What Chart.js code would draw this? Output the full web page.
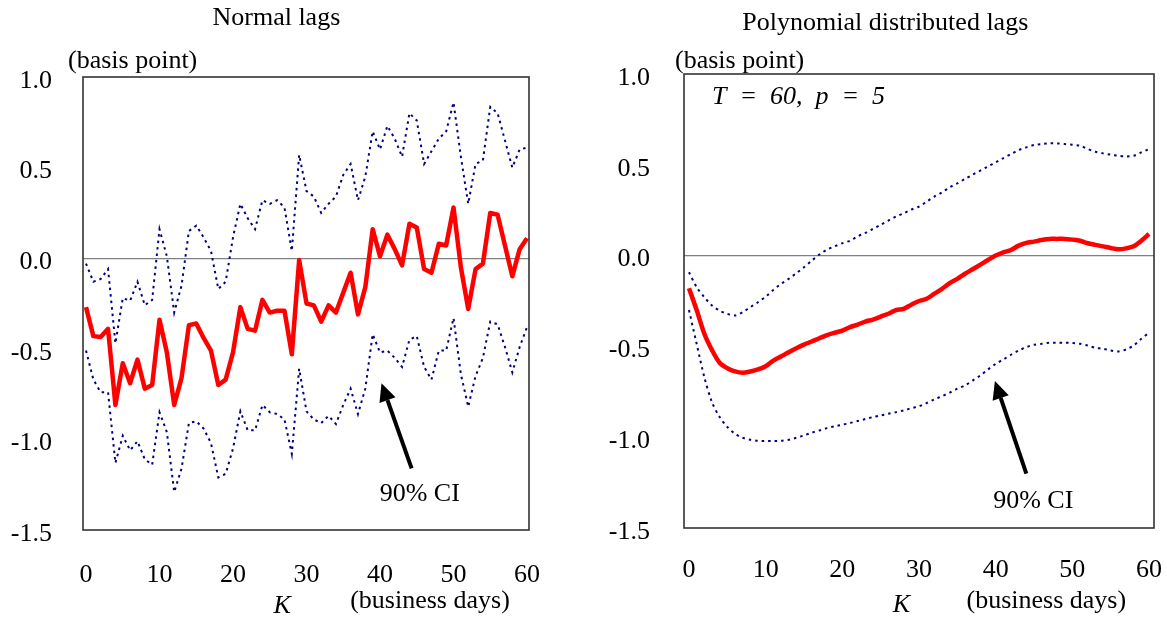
<!DOCTYPE html>
<html><head><meta charset="utf-8">
<script src="https://cdn.jsdelivr.net/npm/chart.js@4"></script>
<style>
html,body{margin:0;padding:0;background:#fff;}
body{width:1167px;height:624px;position:relative;overflow:hidden;}
.box{position:absolute;top:0;height:624px;}
</style></head><body>
<div class="box" style="left:0;width:560px"><canvas id="c1" width="560" height="624"></canvas></div>
<div class="box" style="left:583px;width:584px"><canvas id="c2" width="584" height="624"></canvas></div>
<script>
// K (business days)
const lagK = [0,1,2,3,4,5,6,7,8,9,10,11,12,13,14,15,16,17,18,19,20,21,22,23,24,25,26,27,28,29,30,
  31,32,33,34,35,36,37,38,39,40,41,42,43,44,45,46,47,48,49,50,51,52,53,54,55,56,57,58,59,60];

// Normal lags (basis point)
const normalPoint = [-0.27,-0.43,-0.435,-0.39,-0.81,-0.58,-0.69,-0.56,-0.72,-0.70,-0.34,-0.52,-0.81,-0.66,-0.37,-0.36,-0.44,-0.51,-0.70,-0.67,-0.52,
  -0.27,-0.39,-0.40,-0.23,-0.30,-0.29,-0.29,-0.53,-0.01,-0.25,-0.26,-0.35,-0.26,-0.30,-0.19,-0.08,-0.31,-0.16,0.16,0.01,
  0.13,0.05,-0.04,0.19,0.17,-0.06,-0.08,0.08,0.07,0.28,-0.05,-0.28,-0.06,-0.03,0.25,0.24,0.07,-0.10,0.05,0.11];
const normalUpper = [-0.03,-0.13,-0.115,-0.06,-0.47,-0.22,-0.235,-0.13,-0.26,-0.23,0.16,0.01,-0.30,-0.15,0.15,0.18,0.115,0.04,-0.17,-0.13,0.115,
  0.30,0.22,0.16,0.32,0.30,0.32,0.28,0.04,0.57,0.37,0.34,0.25,0.30,0.34,0.46,0.52,0.32,0.45,0.70,0.60,
  0.73,0.66,0.56,0.80,0.76,0.52,0.59,0.66,0.70,0.86,0.56,0.30,0.52,0.54,0.835,0.80,0.65,0.50,0.60,0.61];
const normalLower = [-0.51,-0.67,-0.74,-0.74,-1.13,-0.98,-1.06,-1.01,-1.11,-1.14,-0.85,-0.96,-1.29,-1.16,-0.91,-0.90,-0.94,-1.02,-1.21,-1.19,-1.05,
  -0.845,-0.95,-0.95,-0.81,-0.85,-0.86,-0.89,-1.08,-0.61,-0.845,-0.89,-0.91,-0.87,-0.915,-0.81,-0.72,-0.86,-0.72,-0.42,-0.52,
  -0.51,-0.55,-0.60,-0.45,-0.43,-0.60,-0.67,-0.51,-0.51,-0.33,-0.64,-0.82,-0.65,-0.55,-0.35,-0.365,-0.49,-0.63,-0.49,-0.38];

// Polynomial distributed lags (basis point)
const pdlPoint = [-0.18,-0.30,-0.43,-0.52,-0.59,-0.62,-0.638,-0.645,-0.638,-0.627,-0.609,-0.578,-0.556,-0.532,-0.51,-0.49,-0.473,-0.455,-0.438,-0.425,-0.413,
  -0.394,-0.38,-0.363,-0.352,-0.336,-0.32,-0.30,-0.293,-0.27,-0.25,-0.238,-0.21,-0.183,-0.152,-0.128,-0.10,-0.075,-0.05,-0.024,0.0,
  0.018,0.031,0.055,0.07,0.077,0.086,0.092,0.092,0.092,0.088,0.082,0.068,0.059,0.051,0.042,0.035,0.04,0.051,0.082,0.119];
const pdlUpper = [-0.092,-0.174,-0.229,-0.275,-0.303,-0.321,-0.33,-0.312,-0.284,-0.257,-0.226,-0.189,-0.156,-0.128,-0.097,-0.064,-0.028,0.006,0.033,0.051,0.068,
  0.082,0.106,0.125,0.147,0.17,0.193,0.215,0.233,0.254,0.27,0.297,0.325,0.348,0.376,0.398,0.422,0.446,0.468,0.491,0.513,
  0.537,0.559,0.581,0.596,0.609,0.614,0.618,0.618,0.614,0.61,0.605,0.587,0.572,0.563,0.556,0.55,0.546,0.55,0.568,0.587];
const pdlLower = [-0.30,-0.486,-0.669,-0.807,-0.889,-0.944,-0.981,-1.003,-1.014,-1.02,-1.021,-1.021,-1.02,-1.014,-1.003,-0.99,-0.975,-0.963,-0.95,-0.94,-0.931,
  -0.922,-0.911,-0.90,-0.889,-0.88,-0.871,-0.862,-0.853,-0.84,-0.83,-0.812,-0.792,-0.774,-0.755,-0.733,-0.715,-0.688,-0.66,-0.627,-0.596,
  -0.572,-0.546,-0.523,-0.504,-0.491,-0.486,-0.48,-0.48,-0.48,-0.481,-0.486,-0.495,-0.508,-0.513,-0.523,-0.528,-0.517,-0.495,-0.458,-0.425];

const xTicks = [0,10,20,30,40,50,60];
const yTicks = [-1.5,-1.0,-0.5,0.0,0.5,1.0];

const FONT = '"Liberation Serif", "Times New Roman", serif';
const FS = 26;

function pts(arr){ return lagK.map((k,i)=>({x:k,y:arr[i]})); }

function drawArrow(ctx, x1, y1, x2, y2){
  const ang = Math.atan2(y2-y1, x2-x1);
  const hl = 18, hw = 8.5;
  const bx = x2 - hl*Math.cos(ang), by = y2 - hl*Math.sin(ang);
  ctx.save();
  ctx.strokeStyle = '#000'; ctx.fillStyle = '#000'; ctx.lineWidth = 4;
  ctx.beginPath(); ctx.moveTo(x1,y1); ctx.lineTo(bx,by); ctx.stroke();
  ctx.beginPath();
  ctx.moveTo(x2,y2);
  ctx.lineTo(bx + hw*Math.sin(ang), by - hw*Math.cos(ang));
  ctx.lineTo(bx - hw*Math.sin(ang), by + hw*Math.cos(ang));
  ctx.closePath(); ctx.fill();
  ctx.restore();
}

function overlay(o){
  return {
    id: 'overlay',
    afterDatasetsDraw(chart){
      const {ctx, chartArea:a, scales:{x, y}} = chart;
      ctx.save();
      // frame
      ctx.strokeStyle = '#333'; ctx.lineWidth = 1.6;
      ctx.strokeRect(a.left, a.top, a.right-a.left, a.bottom-a.top);
      ctx.fillStyle = '#000';
      ctx.font = FS + 'px ' + FONT;
      ctx.textBaseline = 'alphabetic';
      // title
      ctx.textAlign = 'center';
      ctx.fillText(o.title, x.getPixelForValue(o.titleK), o.titleY);
      // unit
      ctx.textAlign = 'left';
      ctx.fillText('(basis point)', a.left + o.unitDx, 68);
      // x axis labels
      ctx.textAlign = 'center';
      ctx.fillText('(business days)', x.getPixelForValue(o.bdK), a.bottom + o.bdY);
      ctx.font = 'italic ' + FS + 'px ' + FONT;
      ctx.fillText('K', x.getPixelForValue(o.kK), a.bottom + o.kY);
      // annotation
      ctx.font = FS + 'px ' + FONT;
      ctx.fillText('90% CI', x.getPixelForValue(o.ciK), y.getPixelForValue(o.ciV));
      drawArrow(ctx, x.getPixelForValue(o.arrow[0]), y.getPixelForValue(o.arrow[1]),
                     x.getPixelForValue(o.arrow[2]), y.getPixelForValue(o.arrow[3]));
      if (o.note){
        ctx.font = 'italic ' + FS + 'px ' + FONT;
        ctx.textAlign = 'left';
        ctx.fillText(o.note, x.getPixelForValue(o.noteK), y.getPixelForValue(o.noteV));
      }
      ctx.restore();
    }
  };
}

function makeChart(id, point, upper, lower, o){
  const dotted = (arr) => ({
    data: pts(arr), borderColor: '#000080', borderWidth: 2, borderDash: [2.5,4],
    pointRadius: 0, fill: false, tension: o.tension
  });
  return new Chart(document.getElementById(id), {
    type: 'line',
    data: { datasets: [
      dotted(upper),
      dotted(lower),
      { data: pts(point), borderColor: '#ff0000', borderWidth: 4.5, pointRadius: 0, fill: false,
        tension: o.tension, borderJoinStyle: 'round' }
    ]},
    options: {
      responsive: false, animation: false, devicePixelRatio: 1,
      layout: { padding: { top: o.top, right: o.right, left: 0, bottom: 0 } },
      plugins: { legend: { display: false }, tooltip: { enabled: false } },
      scales: {
        x: {
          type: 'linear', min: o.xmin, max: o.xmax,
          afterBuildTicks: s => { s.ticks = xTicks.map(v => ({value: v})); },
          afterFit: s => { s.height = o.xh; s.paddingLeft = 0; s.paddingRight = 0; },
          ticks: { font: {family: FONT, size: FS}, color: '#000', padding: o.xpad, maxRotation: 0,
                   callback: v => String(v) },
          grid: { display: false, drawTicks: false },
          border: { display: false }
        },
        y: {
          min: -1.5, max: 1.0,
          afterBuildTicks: s => { s.ticks = yTicks.map(v => ({value: v})); },
          afterFit: s => { s.width = o.yw; },
          ticks: { font: {family: FONT, size: FS}, color: '#000', padding: o.ypad, labelOffset: 4,
                   callback: v => Number(v).toFixed(1) },
          grid: { drawTicks: false, lineWidth: 1.3,
                  color: c => (c.tick && Math.abs(c.tick.value) < 1e-9) ? '#808080' : 'rgba(0,0,0,0)' },
          border: { display: false }
        }
      }
    },
    plugins: [overlay(o)]
  });
}

makeChart('c1', normalPoint, normalUpper, normalLower, {
  top: 77, right: 31, yw: 83, xh: 94, xmin: -0.41, xmax: 60.27, xpad: 30, ypad: 31, tension: 0,
  title: 'Normal lags', titleK: 25.9, titleY: 25, unitDx: -15,
  bdK: 46.8, kK: 26.7, bdY: 78, kY: 83,
  ciK: 45.4, ciV: -1.34, arrow: [44.3, -1.16, 40.2, -0.69]
});
makeChart('c2', pdlPoint, pdlUpper, pdlLower, {
  top: 74, right: 13, yw: 101, xh: 96, xmin: -0.65, xmax: 60.65, xpad: 27, ypad: 34, tension: 0.3,
  title: 'Polynomial distributed lags', titleK: 25.6, titleY: 30, unitDx: -9,
  bdK: 46.6, kK: 27.7, bdY: 80, kY: 84,
  ciK: 44.9, ciV: -1.39, arrow: [44.0, -1.20, 39.9, -0.69],
  note: 'T\u2002=\u200260,\u2002p\u2002=\u20025', noteK: 3.0, noteV: 0.835
});
</script>
</body></html>
